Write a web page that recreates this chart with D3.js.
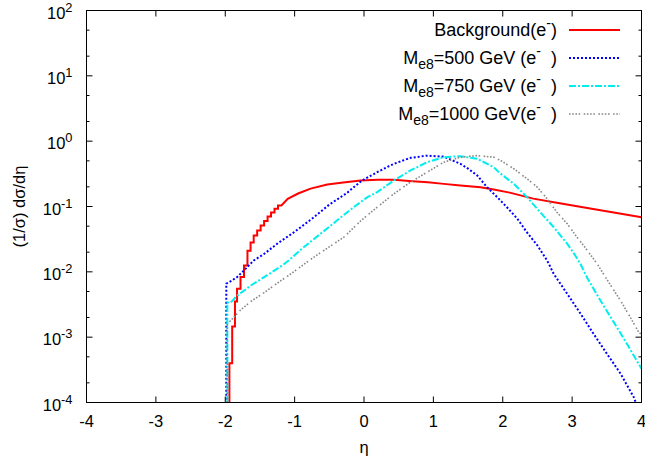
<!DOCTYPE html>
<html>
<head>
<meta charset="utf-8">
<script src="https://cdn.jsdelivr.net/npm/d3@7"></script>
<style>
  body { margin: 0; background: #fff; }
  text { font-family: 'Liberation Sans', Arial, sans-serif; white-space: pre; }
</style>
</head>
<body>
<div id="chart"></div>
<script>
// axis ticks
var xTicks = [-4, -3, -2, -1, 0, 1, 2, 3, 4];
var yExponents = [2, 1, 0, -1, -2, -3, -4];
var yMinor = [2, 5];

var legendLabels = [
  "Background(e^{-})",
  "M_{e8}=500 GeV (e^{-}  )",
  "M_{e8}=750 GeV (e^{-}  )",
  "M_{e8}=1000 GeV(e^{-}  )"
];

// background (red), histogram edge first
var bgEta = [-1.94, -1.94, -1.90, -1.90, -1.86, -1.86, -1.83, -1.83, -1.78, -1.78, -1.73, -1.73, -1.68, -1.68, -1.635, -1.635, -1.59, -1.59, -1.54, -1.54, -1.49, -1.49, -1.44, -1.44, -1.39, -1.39, -1.34, -1.34, -1.29, -1.29, -1.24, -1.24, -1.19,
  -1.1, -0.95, -0.77, -0.53, -0.3, -0.05, 0.2, 0.43, 0.7, 0.92, 1.15, 1.39, 1.68, 1.87, 2.1, 2.44, 2.8, 3.26, 3.6, 4.0];
var bgVal = [1e-5, 4e-4, 4e-4, 1.45e-3, 1.45e-3, 3.5e-3, 3.5e-3, 5.5e-3, 5.5e-3, 8.3e-3, 8.3e-3, 0.0125, 0.0125, 0.021, 0.021, 0.028, 0.028, 0.036, 0.036, 0.043, 0.043, 0.051, 0.051, 0.06, 0.06, 0.07, 0.07, 0.081, 0.081, 0.092, 0.092, 0.104, 0.104,
  0.131, 0.158, 0.188, 0.217, 0.233, 0.25, 0.256, 0.256, 0.244, 0.236, 0.222, 0.209, 0.197, 0.182, 0.163, 0.132, 0.113, 0.093, 0.081, 0.0686];

// M = 500 GeV (blue)
var m500Eta = [-1.985, -1.985, -1.92, -1.83, -1.73, -1.59, -1.44, -1.25, -1.0, -0.75, -0.5, -0.25, -0.03, 0.19, 0.33, 0.43, 0.67, 0.91, 1.15, 1.39, 1.5, 1.63, 1.775, 1.92, 2.06, 2.21, 2.35, 2.5, 2.64, 2.735, 2.93, 3.12, 3.31, 3.5, 3.7, 3.89, 3.95];
var m500Val = [1e-5, 6.6e-3, 7.2e-3, 8.3e-3, 0.0105, 0.0149, 0.0188, 0.027, 0.041, 0.065, 0.107, 0.16, 0.25, 0.335, 0.40, 0.45, 0.556, 0.60, 0.58, 0.45, 0.38, 0.30, 0.197, 0.139, 0.0975, 0.065, 0.040, 0.0253, 0.0149, 9.3e-3, 4.6e-3, 2.3e-3, 1.12e-3, 5.6e-4, 2.75e-4, 1.2e-4, 8e-5];

// M = 750 GeV (cyan)
var m750Eta = [-1.97, -1.97, -1.92, -1.83, -1.61, -1.4, -1.2, -1.1, -0.87, -0.63, -0.39, -0.15, 0.05, 0.19, 0.43, 0.67, 0.91, 1.15, 1.39, 1.63, 1.68, 1.87, 1.95, 2.16, 2.35, 2.54, 2.735, 2.93, 3.05, 3.12, 3.22, 3.41, 3.6, 3.79, 4.0];
var m750Val = [1e-5, 3.4e-3, 3.4e-3, 4.3e-3, 6.4e-3, 8.8e-3, 0.0121, 0.0145, 0.0238, 0.038, 0.061, 0.0975, 0.139, 0.166, 0.25, 0.356, 0.477, 0.569, 0.589, 0.537, 0.506, 0.40, 0.33, 0.222, 0.139, 0.0818, 0.0482, 0.0269, 0.0175, 0.0132, 8.0e-3, 3.6e-3, 1.7e-3, 7.9e-4, 3.3e-4];

// M = 1000 GeV (grey)
var m1000Eta = [-1.97, -1.97, -1.92, -1.78, -1.635, -1.44, -1.25, -1.03, -0.77, -0.53, -0.29, -0.05, 0.19, 0.43, 0.67, 0.91, 1.15, 1.39, 1.63, 1.87, 1.97, 2.16, 2.35, 2.5, 2.64, 2.78, 2.93, 3.07, 3.22, 3.36, 3.48, 3.7, 3.84, 3.96, 4.0];
var m1000Val = [1e-5, 1.6e-3, 1.8e-3, 2.6e-3, 3.5e-3, 4.8e-3, 6.7e-3, 9.7e-3, 0.0155, 0.023, 0.034, 0.06, 0.0975, 0.156, 0.236, 0.335, 0.477, 0.569, 0.60, 0.569, 0.506, 0.378, 0.265, 0.197, 0.131, 0.0818, 0.0543, 0.0339, 0.0212, 0.0133, 8.3e-3, 3.6e-3, 2.0e-3, 1.19e-3, 1.1e-3];

var width = 645, height = 465;
var margin = { left: 86.5, right: 3.5, top: 10.5, bottom: 62.5 };
var fontSize = 16.5;
var legendFontSize = 18;

var svg = d3.select("#chart").append("svg")
  .attr("width", width).attr("height", height);

var x = d3.scaleLinear().domain([-4, 4]).range([margin.left, width - margin.right]);
var y = d3.scaleLog().domain([1e-4, 1e2]).range([height - margin.bottom, margin.top]);

// gnuplot style text: ^{..} superscript, _{..} subscript
function richText(sel, str, size) {
  var parts = str.split(/([_^]\{[^}]*\})/).filter(function (s) { return s.length > 0; });
  var shift = 0;
  parts.forEach(function (p) {
    var target = 0, fs = size, t = p;
    if (p[0] == "^") { t = p.slice(2, -1); fs = size * 0.78; target = -0.42 * size; }
    else if (p[0] == "_") { t = p.slice(2, -1); fs = size * 0.78; target = 0.3 * size; }
    sel.append("tspan").attr("dy", target - shift).attr("font-size", fs).text(t);
    shift = target;
  });
}

svg.append("clipPath").attr("id", "plotClip").append("rect")
  .attr("x", x(-4)).attr("y", y(1e2))
  .attr("width", x(4) - x(-4)).attr("height", y(1e-4) - y(1e2));

// ticks, all four sides
var ticks = svg.append("g").attr("stroke", "#000").attr("stroke-width", 1);
xTicks.forEach(function (t) {
  ticks.append("line").attr("x1", x(t)).attr("x2", x(t)).attr("y1", y(1e-4)).attr("y2", y(1e-4) - 6);
  ticks.append("line").attr("x1", x(t)).attr("x2", x(t)).attr("y1", y(1e2)).attr("y2", y(1e2) + 6);
});
yExponents.forEach(function (e) {
  var v = Math.pow(10, e);
  ticks.append("line").attr("x1", x(-4)).attr("x2", x(-4) + 6).attr("y1", y(v)).attr("y2", y(v));
  ticks.append("line").attr("x1", x(4)).attr("x2", x(4) - 6).attr("y1", y(v)).attr("y2", y(v));
  if (e < 2) {
    yMinor.forEach(function (m) {
      var mv = m * v;
      ticks.append("line").attr("x1", x(-4)).attr("x2", x(-4) + 3).attr("y1", y(mv)).attr("y2", y(mv));
      ticks.append("line").attr("x1", x(4)).attr("x2", x(4) - 3).attr("y1", y(mv)).attr("y2", y(mv));
    });
  }
});

// tick labels
svg.append("g").selectAll("text").data(xTicks).join("text")
  .attr("x", function (d) { return x(d); })
  .attr("y", y(1e-4) + 24)
  .attr("text-anchor", "middle")
  .attr("font-size", fontSize)
  .text(function (d) { return d; });

svg.append("g").selectAll("text").data(yExponents).join("text")
  .attr("x", x(-4) - 14)
  .attr("y", function (d) { return y(Math.pow(10, d)) + 8; })
  .attr("text-anchor", "end")
  .attr("font-size", fontSize)
  .each(function (d) { richText(d3.select(this), "10^{" + d + "}", fontSize); });

// axis titles
svg.append("text")
  .attr("x", x(0)).attr("y", y(1e-4) + 50)
  .attr("text-anchor", "middle").attr("font-size", fontSize)
  .text("η");

svg.append("text")
  .attr("transform", "translate(25," + ((y(1e2) + y(1e-4)) / 2) + ") rotate(-90)")
  .attr("text-anchor", "middle").attr("font-size", fontSize)
  .text("(1/σ) dσ/dη");

// curves
var series = [
  { eta: bgEta, val: bgVal, color: "#ff0000", w: 2, dash: null },
  { eta: m500Eta, val: m500Val, color: "#0000ff", w: 2, dash: "2,2" },
  { eta: m750Eta, val: m750Val, color: "#00eeee", w: 2, dash: "7,2,2,2" },
  { eta: m1000Eta, val: m1000Val, color: "#888888", w: 1.6, dash: "1.6,1.6,1.6,1.6,1.6,1.6,1.6,3.5" }
];

var line = d3.line()
  .x(function (d) { return x(d[0]); })
  .y(function (d) { return y(d[1]); });

var curves = svg.append("g").attr("clip-path", "url(#plotClip)");
series.forEach(function (s) {
  var pts = s.eta.map(function (e, i) { return [e, s.val[i]]; });
  curves.append("path")
    .attr("d", line(pts))
    .attr("fill", "none")
    .attr("stroke", s.color)
    .attr("stroke-width", s.w)
    .attr("stroke-dasharray", s.dash);
});

// frame
svg.append("rect")
  .attr("x", x(-4)).attr("y", y(1e2))
  .attr("width", x(4) - x(-4)).attr("height", y(1e-4) - y(1e2))
  .attr("fill", "none").attr("stroke", "#000").attr("stroke-width", 1);

// legend
var legend = svg.append("g");
series.forEach(function (s, i) {
  var ly = 30 + i * 28;
  legend.append("line")
    .attr("x1", 569).attr("x2", 620).attr("y1", ly).attr("y2", ly)
    .attr("stroke", s.color).attr("stroke-width", s.w)
    .attr("stroke-dasharray", s.dash);
  var t = legend.append("text")
    .attr("x", 557).attr("y", ly + 6)
    .attr("text-anchor", "end")
    .attr("font-size", legendFontSize);
  richText(t, legendLabels[i], legendFontSize);
});
</script>
</body>
</html>
